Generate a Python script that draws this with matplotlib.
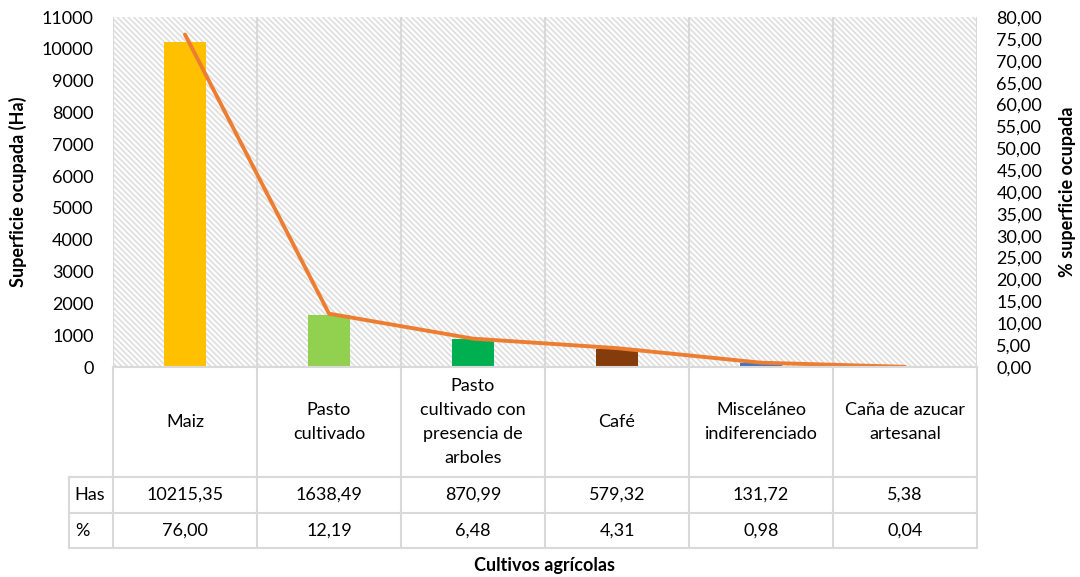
import numpy as np
import matplotlib
matplotlib.use("Agg")
import matplotlib.pyplot as plt
from matplotlib.patches import Rectangle
from matplotlib.ticker import FuncFormatter

plt.rcParams['font.family'] = ['Lato', 'DejaVu Sans']
plt.rcParams['hatch.color'] = '#E0E0E0'
plt.rcParams['hatch.linewidth'] = 1.3

cultivos = ["Maiz", "Pasto\ncultivado", "Pasto\ncultivado con\npresencia de\narboles",
            "Café", "Misceláneo\nindiferenciado", "Caña de azucar\nartesanal"]
has = [10215.35, 1638.49, 870.99, 579.32, 131.72, 5.38]
pct = [76.00, 12.19, 6.48, 4.31, 0.98, 0.04]
colores = ["#FFC000", "#92D050", "#00B050", "#843C0C", "#4472C4", "#A5A5A5"]

W, H = 1080, 577
fig = plt.figure(figsize=(W / 100, H / 100), dpi=100)

# plot area in pixels
px_l, px_r, px_t, px_b = 113, 977, 17, 367
ax = fig.add_axes([px_l / W, 1 - px_b / H, (px_r - px_l) / W, (px_b - px_t) / H])
x = np.arange(len(cultivos))

ax.add_patch(Rectangle((0, 0), 1, 1, transform=ax.transAxes, facecolor='white',
                       hatch='\\' * 6, edgecolor='#E0E0E0', lw=0, zorder=0))
for b in np.arange(-0.5, len(cultivos), 1.0):
    ax.axvline(b, color='#D9D9D9', lw=1.5, zorder=1)

ax.bar(x, has, width=0.29, color=colores, zorder=2)
ax.set_xlim(-0.5, len(cultivos) - 0.5)
ax.set_ylim(0, 11000)
ax.set_yticks(np.arange(0, 11001, 1000))
ax.set_xticks([])
ax.tick_params(axis='y', length=0, labelsize=13, pad=14)
for s in ax.spines.values():
    s.set_visible(False)

ax2 = ax.twinx()
ax2.plot(x, pct, color='#ED7D31', lw=2.8, solid_capstyle='round', zorder=3)
ax2.set_ylim(0, 80)
ax2.set_yticks(np.arange(0, 81, 5))
ax2.yaxis.set_major_formatter(FuncFormatter(lambda v, p: f"{v:.2f}".replace('.', ',')))
ax2.tick_params(axis='y', length=0, labelsize=13, pad=14)
for s in ax2.spines.values():
    s.set_visible(False)

fig.text(18 / W, 1 - 192 / H, "Superficie ocupada (Ha)", rotation=90, fontsize=13,
         fontweight='bold', ha='center', va='center')
fig.text(1068 / W, 1 - 192 / H, "% superficie ocupada", rotation=90, fontsize=13,
         fontweight='bold', ha='center', va='center')
fig.text((px_l + px_r) / 2 / W, 1 - 566 / H, "Cultivos agrícolas", fontsize=13,
         fontweight='bold', ha='center', va='center')

# data table under the plot
tl, tb = 69, 548
lab_w = (px_l - tl) / 144
tab = fig.add_axes([tl / W, 1 - tb / H, (px_r - tl) / W, (tb - px_b) / H])
tab.set_xlim(-0.5 - lab_w, len(cultivos) - 0.5)
tab.set_ylim(tb, px_b)
tab.axis('off')
gc = '#D9D9D9'
r1, r2 = 477, 513
tab.plot([-0.5, 5.5], [px_b, px_b], color=gc, lw=1.5, clip_on=False)
for yy in (r1, r2, tb):
    tab.plot([-0.5 - lab_w, 5.5], [yy, yy], color=gc, lw=1.5, clip_on=False)
for b in np.arange(-0.5, len(cultivos), 1.0):
    tab.plot([b, b], [px_b, tb], color=gc, lw=1.5, clip_on=False)
tab.plot([-0.5 - lab_w] * 2, [r1, tb], color=gc, lw=1.5, clip_on=False)

for i, c in enumerate(cultivos):
    tab.text(i, (px_b + r1) / 2, c, ha='center', va='center', fontsize=13,
             linespacing=1.6)
    tab.text(i, (r1 + r2) / 2, f"{has[i]:.2f}".replace('.', ','), ha='center',
             va='center', fontsize=13)
    tab.text(i, (r2 + tb) / 2, f"{pct[i]:.2f}".replace('.', ','), ha='center',
             va='center', fontsize=13)
tab.text(-0.5 - lab_w + 0.04, (r1 + r2) / 2, "Has", ha='left', va='center', fontsize=13)
tab.text(-0.5 - lab_w + 0.04, (r2 + tb) / 2, "%", ha='left', va='center', fontsize=13)

fig.savefig("out.png", dpi=100)
